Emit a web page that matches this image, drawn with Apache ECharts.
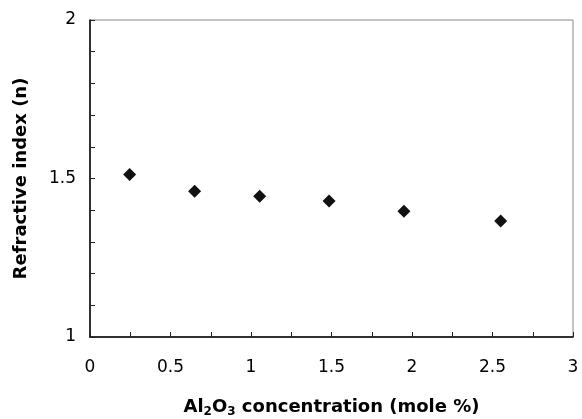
<!DOCTYPE html>
<html>
<head>
<meta charset="utf-8">
<script src="https://cdn.jsdelivr.net/npm/echarts@6/dist/echarts.min.js"></script>
<style>html,body{margin:0;padding:0;background:#fff;}#c{width:582px;height:419px;}</style>
</head>
<body>
<div id="c"></div>
<script>
var concentration = [0.246, 0.650, 1.054, 1.485, 1.950, 2.551];
var refractiveIndex = [1.513, 1.460, 1.444, 1.429, 1.397, 1.366];
var xTicks = [0, 0.5, 1, 1.5, 2, 2.5, 3];
var yTicks = [1, 1.5, 2];

var chart = echarts.init(document.getElementById('c'), null, {renderer: 'canvas'});
var font = '"DejaVu Sans", sans-serif';
chart.setOption({
  animation: false,
  backgroundColor: '#fff',
  grid: {left: 90, top: 20, right: 9, bottom: 82, show: true, borderColor: '#888', borderWidth: 1,
         containLabel: false, outerBoundsMode: 'none'},
  xAxis: {
    type: 'value', min: xTicks[0], max: xTicks[xTicks.length - 1], interval: 0.5,
    name: '{b|Al}{s|2}{b|O}{s|3}{b| concentration (mole %)}',
    nameLocation: 'middle', nameGap: 60,
    nameTextStyle: {rich: {
      b: {fontFamily: font, fontWeight: 'bold', fontSize: 18, color: '#000'},
      s: {fontFamily: font, fontWeight: 'bold', fontSize: 12, color: '#000', verticalAlign: 'bottom', padding: [9, 0, 0, 0]}
    }},
    axisLine: {lineStyle: {color: '#000', width: 1.5}},
    axisTick: {inside: true, length: 5, lineStyle: {color: '#222'}},
    minorTick: {show: true, splitNumber: 2, length: 5, lineStyle: {color: '#222'}},
    splitLine: {show: false},
    axisLabel: {fontFamily: font, fontSize: 17, color: '#000', margin: 22,
      formatter: function (v) { return String(+v.toFixed(2)); }}
  },
  yAxis: {
    type: 'value', min: yTicks[0], max: yTicks[yTicks.length - 1], interval: 0.5,
    name: 'Refractive index (n)', nameLocation: 'middle', nameGap: 60,
    nameTextStyle: {fontFamily: font, fontWeight: 'bold', fontSize: 18, color: '#000'},
    axisLine: {lineStyle: {color: '#000', width: 1.5}},
    axisTick: {inside: true, length: 5, lineStyle: {color: '#222'}},
    minorTick: {show: true, splitNumber: 5, length: 5, lineStyle: {color: '#222'}},
    splitLine: {show: false},
    axisLabel: {fontFamily: font, fontSize: 17, color: '#000', margin: 14,
      formatter: function (v) { return String(+v.toFixed(2)); }}
  },
  series: [{
    type: 'scatter',
    symbol: 'diamond', symbolSize: [13, 13],
    itemStyle: {color: '#111', opacity: 1},
    data: concentration.map(function (x, i) { return [x, refractiveIndex[i]]; })
  }]
});
</script>
</body>
</html>
